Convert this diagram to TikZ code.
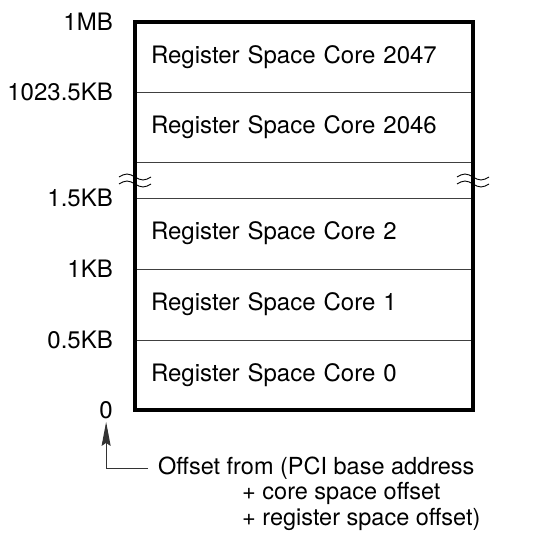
\documentclass[tikz,border=0pt]{standalone}
\usepackage{fontspec}
\setmainfont{TeX Gyre Heros}
\usepackage{tikz}
\usetikzlibrary{positioning, arrows.meta}

\begin{document}
\begin{tikzpicture}[
    x=1pt, y=-1pt,
    node distance=0pt,
    core/.style={rectangle, draw=black!75, line width=0.9pt, outer sep=0pt, minimum width=338pt, minimum height=70pt, text width=306pt, inner xsep=16pt, align=left, font=\fontsize{24}{28}\selectfont},
    addr/.style={anchor=east, inner sep=2pt, font=\fontsize{24}{28}\selectfont},
    note/.style={inner ysep=0pt, inner xsep=0pt, font=\fontsize{23.5}{25.5}\selectfont},
    arrow/.style={-{Stealth[length=24pt, width=9pt, inset=3pt]}, line width=1pt, draw=black!80}
]
    \useasboundingbox (0,0) rectangle (541,538);

    % Memory map rows
    \node[core, anchor=north west] (core2047) at (135,22) {Register Space Core 2047};
    \node[core, below=of core2047] (core2046) {Register Space Core 2046};
    \node[core, below=of core2046, minimum height=36pt] (gap) {};
    \node[core, below=of gap, minimum height=71pt] (core2) {Register Space Core 2};
    \node[core, below=of core2, minimum height=71pt] (core1) {Register Space Core 1};
    \node[core, below=of core1] (core0) {Register Space Core 0};
    \draw[line width=3.2pt] (core2047.north west) rectangle (core0.south east);

    % Break marks
    \begin{scope}[shift={(gap.west)}]
        \foreach \xx in {0,338} \foreach \yy in {-3,4}
            \draw[line width=0.9pt] (\xx-16,\yy) sin (\xx-8,\yy-3) cos (\xx,\yy) sin (\xx+8,\yy+3) cos (\xx+16,\yy);
    \end{scope}

    % Addresses
    \node[addr] (a1mb) at ([xshift=-20pt]core2047.north west) {1MB};
    \node[addr] (a1023) at ([xshift=-20pt]core2046.north west) {1023.5KB};
    \node[addr] (a15kb) at ([xshift=-20pt]core2.north west) {1.5KB};
    \node[addr] (a1kb) at ([xshift=-20pt]core1.north west) {1KB};
    \node[addr] (a05kb) at ([xshift=-20pt]core0.north west) {0.5KB};
    \node[addr] (zero) at ([xshift=-20pt]core0.south west) {0};

    % Offset note
    \node[note, anchor=west, inner xsep=10pt] (offset) at (148,468) {Offset from (PCI base address};
    \node[note, anchor=base west] (coreoff) at ([xshift=94pt, yshift=-25.5pt]offset.base west) {+ core space offset};
    \node[note, anchor=base west] (regoff) at ([yshift=-25.5pt]coreoff.base west) {+ register space offset)};
    \draw[arrow, shorten >=1pt] (offset.west) -| (zero.south);
\end{tikzpicture}
\end{document}
